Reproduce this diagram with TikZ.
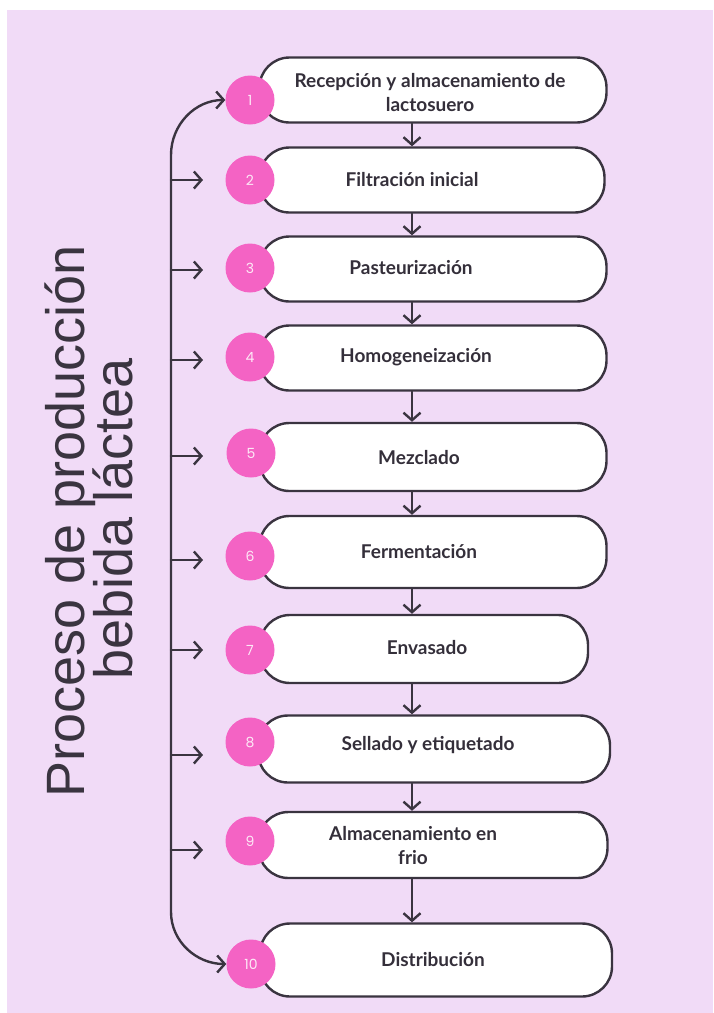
\documentclass[tikz,border=0pt]{standalone}
\usepackage{fontspec}
\usetikzlibrary{positioning, arrows.meta}
\setmainfont{Lato}
\newfontfamily\titlefont{Liberation Sans}
\newfontfamily\numfont{Poppins}
\definecolor{lila}{RGB}{241,219,247}
\definecolor{rosa}{RGB}{244,99,196}
\definecolor{tinta}{RGB}{58,52,64}
\tikzset{
x=1pt, y=-1pt, % one unit is one pixel of the sketch, y grows downwards
>={Straight Barb[length=7.5pt,width=17pt]}, % open arrow heads
flow/.style={->, draw=tinta, line width=2.4pt, line cap=round, line join=round}, % every connector
stepbox/.style={draw=tinta, line width=2.4pt, fill=white, rounded corners=30pt, inner sep=0pt, minimum height=65pt}, % the white pills
stepnum/.style={circle, fill=rosa, minimum size=49pt, inner sep=0pt, text=white!85!rosa, font=\numfont\fontsize{14}{14}\selectfont}, % the pink dots
steptext/.style={text=tinta!90!black, align=center, font=\bfseries\fontsize{19}{24}\selectfont}, % labels in the pills
titletext/.style={rotate=90, anchor=base, text=tinta, font=\titlefont\fontsize{54}{54}\selectfont}, % the side title
}

\begin{document}
\begin{tikzpicture}
        \useasboundingbox (0,0) rectangle (713,1013);
        \fill[white] (0,0) rectangle (713,1013);
        \fill[lila] (7,10) rectangle (713,1013);

        % title
        \node[titletext] (title1) at (84,521) {Proceso de producción};
        \node[titletext] (title2) at (132,519) {bebida láctea};

        % steps
        \node[stepbox, minimum width=347pt] (s1) at (433,90) {};
        \node[stepbox, minimum width=345pt] (s2) at (432,180) {};
        \node[stepbox, minimum width=347pt] (s3) at (433,269) {};
        \node[stepbox, minimum width=347pt] (s4) at (433,358) {};
        \node[stepbox, minimum width=347pt, minimum height=68pt] (s5) at (433,457) {};
        \node[stepbox, minimum width=347pt, minimum height=72pt] (s6) at (433,552) {};
        \node[stepbox, minimum width=328pt, minimum height=68pt] (s7) at (424,649) {};
        \node[stepbox, minimum width=352pt, minimum height=67pt] (s8) at (434,749) {};
        \node[stepbox, minimum width=349pt, minimum height=66pt] (s9) at (433,845) {};
        \node[stepbox, minimum width=352pt, minimum height=73pt] (s10) at (436,960) {};

        \node[steptext] (t1) at (430,93) {Recepción y almacenamiento de\\lactosuero};
        \node[steptext] (t2) at (412,180) {Filtración inicial};
        \node[steptext] (t3) at (411,268) {Pasteurización};
        \node[steptext] (t4) at (416,357) {Homogeneización};
        \node[steptext] (t5) at (419,458) {Mezclado};
        \node[steptext] (t6) at (419,552) {Fermentación};
        \node[steptext] (t7) at (427,648) {Envasado};
        \node[steptext] (t8) at (428,745) {Sellado y etiquetado};
        \node[steptext] (t9) at (413,845) {Almacenamiento en\\frio};
        \node[steptext] (t10) at (433,960) {Distribución};

        \node[stepnum] (n1) at (250,100) {1};
        \node[stepnum] (n2) at (250,180) {2};
        \node[stepnum] (n3) at (250,268) {3};
        \node[stepnum] (n4) at (250,357) {4};
        \node[stepnum] (n5) at (251,453) {5};
        \node[stepnum] (n6) at (250,556) {6};
        \node[stepnum] (n7) at (250,650) {7};
        \node[stepnum] (n8) at (250,742) {8};
        \node[stepnum] (n9) at (250,841) {9};
        \node[stepnum] (n10) at (251,964) {10};

        % down the column
        \coordinate (dx) at (412,0);
        \foreach \i/\j in {1/2, 2/3, 3/4, 4/5, 5/6, 6/7, 7/8, 8/9, 9/10}
          \draw[flow] (dx |- s\i.south) -- (dx |- s\j.north);

        % the side rail
        \coordinate (railtop) at (171,155);
        \coordinate (railbot) at (171,912);
        \draw[flow, <->] (n1.west) to[out=180, in=90] (railtop) -- (railbot) to[out=-90, in=180] (n10.west);
        \foreach \i/\yy in {2/180, 3/270, 4/360, 5/456, 6/560, 7/650, 8/755, 9/850} {
          \coordinate (b\i) at (171,\yy);
          \coordinate (e\i) at (203,\yy);
          \draw[flow] (b\i) -- (e\i);
        }
\end{tikzpicture}
\end{document}
